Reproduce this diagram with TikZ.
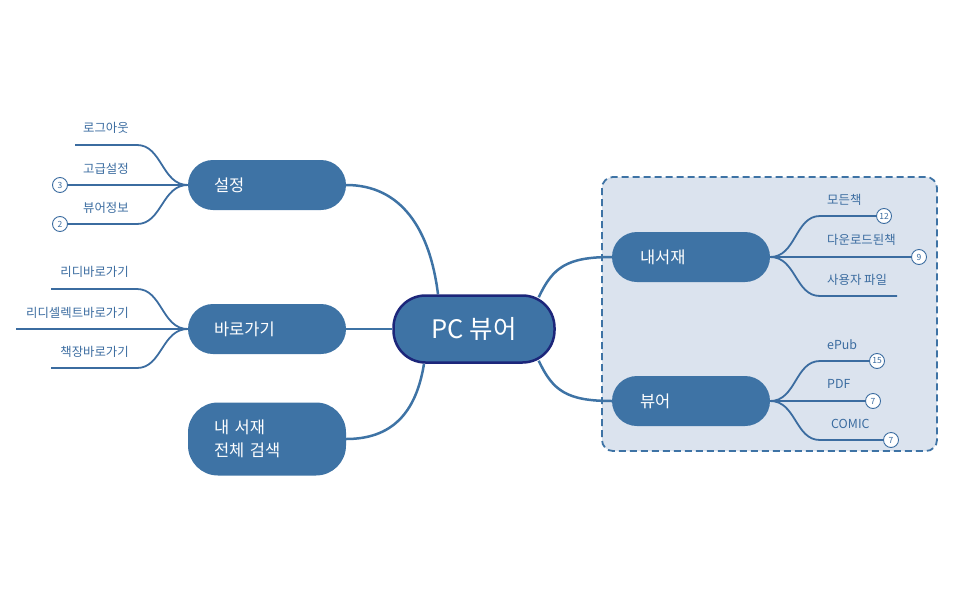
\documentclass[tikz,border=0pt]{standalone}
\usepackage{fontspec}
\setmainfont{Noto Sans CJK KR}
\usetikzlibrary{backgrounds}
\definecolor{topicblue}{RGB}{62,115,165}
\definecolor{rootline}{RGB}{28,38,122}
\definecolor{leafblue}{RGB}{59,108,160}
\definecolor{groupfill}{RGB}{219,227,238}

\begin{document}
\begin{tikzpicture}[x=1pt,y=-1pt,
    topic/.style={fill=topicblue,text=white,rounded corners=25pt,minimum height=50pt,
      text width=106pt,inner xsep=26pt,align=left,font=\fontsize{16.5}{23}\selectfont},
    root/.style={fill=topicblue,draw=rootline,line width=2.5pt,text=white,rounded corners=32pt,
      minimum width=161pt,minimum height=67pt,font=\fontsize{25.5}{26}\selectfont},
    leaf/.style={text=leafblue,inner sep=0pt,font=\fontsize{12.4}{13}\selectfont},
    badge/.style={circle,draw=leafblue,fill=white,line width=0.9pt,minimum size=15pt,
      inner sep=0pt,text=leafblue,font=\fontsize{8.5}{8.5}\selectfont},
    link/.style={draw=topicblue,line width=2.5pt},
    twig/.style={draw=leafblue,line width=1.8pt}]
            \useasboundingbox (0,0) rectangle (953,589);

            % main topics
            \node[root] (pc) at (474,329) {PC 뷰어};
            \node[topic] (seting) at (267,185) {설정};
            \node[topic] (shortcut) at (267,329) {바로가기};
            \node[topic,minimum height=73pt,rounded corners=30pt] (srch) at (267,439) {내 서재\\전체 검색};
            \node[topic,inner xsep=28pt,text width=102pt] (mylib) at (691,257) {내서재};
            \node[topic,inner xsep=28pt,text width=102pt] (viewer) at (691,401) {뷰어};

            % left leaves
            \node[leaf,anchor=east] (tlogout) at (129,128) {로그아웃};
            \node[leaf,anchor=east] (tadv) at (129,169) {고급설정};
            \node[leaf,anchor=east] (tinfo) at (129,208) {뷰어정보};
            \node[badge] (badv) at (60,185) {3};
            \node[badge] (binfo) at (60,224) {2};
            \coordinate (klogout) at (137,145);
            \coordinate (elogout) at (75,145);
            \coordinate (kinfo) at (137,224);

            \node[leaf,anchor=east] (tridi) at (129,272) {리디바로가기};
            \node[leaf,anchor=east] (tselect) at (129,313) {리디셀렉트바로가기};
            \node[leaf,anchor=east] (tshelf) at (129,352) {책장바로가기};
            \coordinate (kridi) at (137,289);
            \coordinate (eridi) at (51,289);
            \coordinate (eselect) at (16,329);
            \coordinate (kshelf) at (137,368);
            \coordinate (eshelf) at (51,368);

            % right leaves
            \node[leaf,anchor=west] (tall) at (827,200) {모든책};
            \node[leaf,anchor=west] (tdown) at (827,240) {다운로드된책};
            \node[leaf,anchor=west] (tuser) at (827,280) {사용자 파일};
            \node[badge] (ball) at (884,216) {12};
            \node[badge] (bdown) at (919,257) {9};
            \coordinate (kall) at (820,216);
            \coordinate (kuser) at (820,296);
            \coordinate (euser) at (897,296);

            \node[leaf,anchor=west] (tepub) at (827,345) {ePub};
            \node[leaf,anchor=west] (tpdf) at (827,384) {PDF};
            \node[leaf,anchor=west] (tcomic) at (831,424) {COMIC};
            \node[badge] (bepub) at (877,361) {15};
            \node[badge] (bpdf) at (873,401) {7};
            \node[badge] (bcomic) at (891,440) {7};
            \coordinate (kepub) at (820,361);
            \coordinate (kcomic) at (820,440);

            \begin{scope}[on background layer]
            \draw[topicblue,line width=1.8pt,dash pattern=on 7pt off 4pt,fill=groupfill,rounded corners=11pt]
                (602,177) rectangle (937,451);

            \draw[link] ([xshift=-36pt]pc.north) .. controls +(-8,-65) and +(55,0) .. (seting.east);
            \draw[link] (pc.west) -- (shortcut.east);
            \draw[link] ([xshift=-50pt]pc.south) .. controls +(-8,50) and +(45,0) .. (srch.east);
            \draw[link] ([xshift=-17pt,yshift=-3pt]pc.north east) .. controls +(14,-30) and +(-45,0) .. (mylib.west);
            \draw[link] ([xshift=-17pt,yshift=3pt]pc.south east) .. controls +(14,30) and +(-45,0) .. (viewer.west);

            \draw[twig] (seting.west) .. controls +(-26,0) and +(25,0) .. (klogout) -- (elogout);
            \draw[twig] (seting.west) -- (badv);
            \draw[twig] (seting.west) .. controls +(-26,0) and +(25,0) .. (kinfo) -- (binfo);

            \draw[twig] (shortcut.west) .. controls +(-26,0) and +(25,0) .. (kridi) -- (eridi);
            \draw[twig] (shortcut.west) -- (eselect);
            \draw[twig] (shortcut.west) .. controls +(-26,0) and +(25,0) .. (kshelf) -- (eshelf);

            \draw[twig] (mylib.east) .. controls +(26,0) and +(-25,0) .. (kall) -- (ball);
            \draw[twig] (mylib.east) -- (bdown);
            \draw[twig] (mylib.east) .. controls +(26,0) and +(-25,0) .. (kuser) -- (euser);

            \draw[twig] (viewer.east) .. controls +(26,0) and +(-25,0) .. (kepub) -- (bepub);
            \draw[twig] (viewer.east) -- (bpdf);
            \draw[twig] (viewer.east) .. controls +(26,0) and +(-25,0) .. (kcomic) -- (bcomic);
            \end{scope}
        \end{tikzpicture}
\end{document}
